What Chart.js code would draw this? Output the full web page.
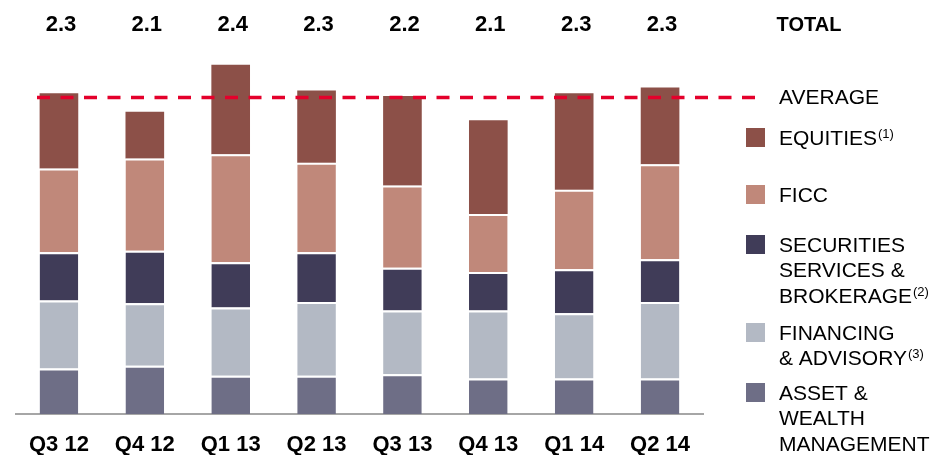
<!DOCTYPE html>
<html>
<head>
<meta charset="utf-8">
<script src="https://cdn.jsdelivr.net/npm/chart.js@4.4.1/dist/chart.umd.min.js"></script>
<style>
    html, body { margin: 0; padding: 0; background: #fff; }
    #wrap { width: 931px; height: 455px; position: relative; }
</style>
</head>
<body>
<div id="wrap"><canvas id="revenueChart"></canvas></div>
<script>
// values (USD bn, approx)
const quarters = ['Q3 12', 'Q4 12', 'Q1 13', 'Q2 13', 'Q3 13', 'Q4 13', 'Q1 14', 'Q2 14'];
const assetWealth = [0.32, 0.34, 0.27, 0.27, 0.28, 0.25, 0.25, 0.25];
const financing = [0.48, 0.44, 0.48, 0.52, 0.45, 0.48, 0.46, 0.54];
const securities = [0.34, 0.37, 0.32, 0.35, 0.30, 0.27, 0.31, 0.30];
const ficc = [0.59, 0.65, 0.76, 0.63, 0.58, 0.41, 0.56, 0.67];
const equities = [0.53, 0.33, 0.63, 0.51, 0.63, 0.66, 0.68, 0.54];
const totals = ['2.3', '2.1', '2.4', '2.3', '2.2', '2.1', '2.3', '2.3'];
const average = 2.23;

const colors = {
    equities: '#8c5048',
    ficc: '#c0887a',
    securities: '#403c58',
    financing: '#b3b9c4',
    asset: '#6e6e86',
    average: '#e4002b'
};

// legend text: each line is [text, superscript]
const legendItems = [
    {color: colors.equities, lines: [['EQUITIES', '(1)']], top: 128},
    {color: colors.ficc, lines: [['FICC', '']], top: 185},
    {color: colors.securities, lines: [['SECURITIES', ''], ['SERVICES &', ''], ['BROKERAGE', '(2)']], top: 235},
    {color: colors.financing, lines: [['FINANCING', ''], ['& ADVISORY', '(3)']], top: 323},
    {color: colors.asset, lines: [['ASSET &', ''], ['WEALTH', ''], ['MANAGEMENT', '']], top: 383}
];

const FONT = "'Liberation Sans', Arial, sans-serif";

const overlayPlugin = {
    id: 'overlay',
    afterDraw(chart) {
        const ctx = chart.ctx;
        const xScale = chart.scales.x;
        const yScale = chart.scales.y;
        ctx.save();

        // totals row
        ctx.fillStyle = '#000';
        ctx.textAlign = 'center';
        ctx.textBaseline = 'middle';
        ctx.font = 'bold 22px ' + FONT;
        totals.forEach((t, i) => {
            ctx.fillText(t, xScale.getPixelForValue(i) + 2, 25);
        });
        ctx.font = 'bold 20px ' + FONT;
        ctx.fillText('TOTAL', 809, 25);

        // average line
        const avgY = yScale.getPixelForValue(average);
        ctx.strokeStyle = colors.average;
        ctx.lineWidth = 3.5;
        ctx.setLineDash([13, 10.5]);
        ctx.beginPath();
        ctx.moveTo(37, avgY);
        ctx.lineTo(758, avgY);
        ctx.stroke();
        ctx.setLineDash([]);

        ctx.textAlign = 'left';
        ctx.font = '21px ' + FONT;
        ctx.fillText('AVERAGE', 779, 98);

        // legend
        legendItems.forEach(item => {
            ctx.fillStyle = item.color;
            ctx.fillRect(746, item.top, 19, 19);
            ctx.fillStyle = '#000';
            item.lines.forEach((line, j) => {
                const y = item.top + 11 + j * 25.5;
                ctx.font = '21px ' + FONT;
                ctx.fillText(line[0], 779, y);
                if (line[1]) {
                    const w = ctx.measureText(line[0]).width;
                    ctx.font = '13px ' + FONT;
                    ctx.fillText(line[1], 779 + w + 1, y - 5);
                }
            });
        });

        ctx.restore();
    }
};

const segment = (label, data, color, top) => ({
    label: label,
    data: data,
    backgroundColor: color,
    borderColor: '#fff',
    borderWidth: {top: top, bottom: 0, left: 0, right: 0},
    borderSkipped: false,
    barPercentage: 0.45,
    categoryPercentage: 1
});

new Chart(document.getElementById('revenueChart'), {
    type: 'bar',
    data: {
        labels: quarters,
        datasets: [
            segment('Asset & Wealth Management', assetWealth, colors.asset, 2),
            segment('Financing & Advisory', financing, colors.financing, 2),
            segment('Securities Services & Brokerage', securities, colors.securities, 2),
            segment('FICC', ficc, colors.ficc, 2),
            segment('Equities', equities, colors.equities, 0)
        ]
    },
    options: {
        responsive: true,
        maintainAspectRatio: false,
        animation: false,
        layout: {
            padding: {left: 16, right: 228, top: 45, bottom: 0}
        },
        plugins: {
            legend: {display: false},
            tooltip: {enabled: false}
        },
        scales: {
            x: {
                stacked: true,
                grid: {display: false, drawTicks: false},
                border: {color: '#a6a6a6', width: 2},
                ticks: {
                    color: '#000',
                    padding: 18,
                    font: {family: FONT, size: 22, weight: 'bold'}
                },
                afterFit: (scale) => {
                    scale.height = 41;
                }
            },
            y: {
                stacked: true,
                display: false,
                min: 0,
                max: 2.6
            }
        }
    },
    plugins: [overlayPlugin]
});
</script>
</body>
</html>
